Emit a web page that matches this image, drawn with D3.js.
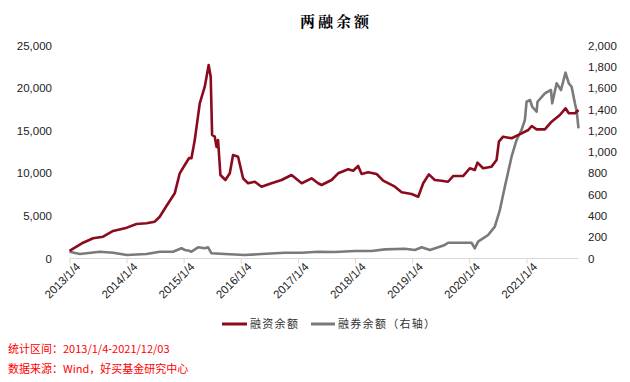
<!DOCTYPE html>
<html>
<head>
<meta charset="utf-8">
<script src="https://cdn.jsdelivr.net/npm/d3@7"></script>
<style>
  html, body { margin: 0; padding: 0; background: #fff; }
  svg { display: block; }
</style>
</head>
<body>
<svg id="chart" width="630" height="382"></svg>
<script>
// ---------- data ----------
const financingDates = ["2013-01-04","2013-04-01","2013-06-04","2013-08-07","2013-10-10","2014-01-06","2014-03-08","2014-05-11","2014-07-03","2014-08-04","2014-09-16","2014-11-08","2014-12-10","2015-01-12","2015-02-08","2015-02-23","2015-03-16","2015-04-17","2015-05-19","2015-06-13","2015-06-26","2015-07-05","2015-07-22","2015-08-02","2015-08-12","2015-08-27","2015-09-28","2015-10-26","2015-11-16","2015-12-18","2016-01-19","2016-02-20","2016-04-03","2016-05-16","2016-07-19","2016-09-21","2016-11-24","2017-01-28","2017-04-01","2017-05-13","2017-06-04","2017-08-07","2017-09-18","2017-11-21","2017-12-23","2018-01-24","2018-02-15","2018-03-29","2018-05-22","2018-07-03","2018-09-16","2018-10-29","2019-01-01","2019-02-12","2019-03-16","2019-04-21","2019-05-29","2019-07-11","2019-08-22","2019-09-23","2019-11-26","2020-01-08","2020-02-09","2020-02-26","2020-04-02","2020-05-26","2020-06-27","2020-07-12","2020-08-08","2020-10-01","2020-12-04","2021-01-16","2021-02-07","2021-03-10","2021-05-02","2021-06-14","2021-08-06","2021-09-11","2021-10-02","2021-11-10","2021-12-03"];
const financingValues = [900,1850,2370,2560,3230,3620,4050,4130,4320,4900,6160,7650,10000,11000,11800,11760,13900,18200,20160,22700,21340,14500,14300,13100,13900,9800,9210,10000,12150,11950,9410,8830,9010,8430,8830,9210,9800,8830,9410,8830,8630,9210,10000,10470,10300,10860,9920,10120,9920,9130,8430,7770,7570,7250,8830,9880,9210,9130,9010,9680,9680,10590,10390,11250,10590,10780,11560,13710,14300,14110,14690,15080,15550,15160,15160,16060,16840,17630,17040,17040,17430];

const lendingDates = ["2013-01-04","2013-03-11","2013-07-17","2013-10-10","2014-01-06","2014-05-11","2014-08-04","2014-10-28","2014-12-21","2015-01-12","2015-02-08","2015-02-23","2015-04-06","2015-05-19","2015-06-09","2015-07-01","2015-09-24","2016-01-30","2016-05-16","2016-10-12","2017-01-28","2017-05-13","2017-08-28","2018-01-04","2018-04-20","2018-07-14","2018-11-18","2019-01-22","2019-03-06","2019-04-28","2019-06-20","2019-08-01","2019-08-22","2019-10-26","2020-01-19","2020-02-09","2020-03-01","2020-05-04","2020-06-16","2020-07-18","2020-08-19","2020-10-01","2020-11-02","2020-12-04","2020-12-25","2021-01-05","2021-01-27","2021-02-10","2021-03-10","2021-03-16","2021-05-02","2021-06-10","2021-06-18","2021-07-16","2021-08-13","2021-09-11","2021-10-02","2021-10-20","2021-11-10","2021-11-22","2021-12-03"];
const lendingValues = [64,42,64,54,33,42,64,64,96,80,73,64,105,96,105,49,42,33,42,54,54,64,61,70,70,86,92,80,105,80,105,127,148,148,148,96,158,221,299,455,674,956,1113,1207,1300,1472,1488,1425,1378,1472,1551,1582,1457,1645,1582,1745,1645,1613,1457,1378,1222];

const xTickLabels = ["2013/1/4","2014/1/4","2015/1/4","2016/1/4","2017/1/4","2018/1/4","2019/1/4","2020/1/4","2021/1/4"];
const leftTicks = [0,5000,10000,15000,20000,25000];
const rightTicks = [0,200,400,600,800,1000,1200,1400,1600,1800,2000];
const seriesNames = ["融资余额","融券余额（右轴）"];
const seriesColors = ["#8B0A1E","#7A7A7A"];
const titleText = "两融余额";
const noteLines = ["统计区间：2013/1/4-2021/12/03","数据来源：Wind，好买基金研究中心"];

// ---------- chart ----------
const parse = d3.timeParse("%Y-%m-%d");
const parseTick = d3.timeParse("%Y/%m/%d");
const svg = d3.select("#chart");

const x = d3.scaleTime()
  .domain([parse("2013-01-04"), parse("2021-12-03")])
  .range([69.5, 578.5]);
const yL = d3.scaleLinear().domain([0, 25000]).range([258.5, 45.5]);
const yR = d3.scaleLinear().domain([0, 2000]).range([258.5, 45.5]);

const fin = financingDates.map((d, i) => ({ t: parse(d), v: financingValues[i] }));
const lend = lendingDates.map((d, i) => ({ t: parse(d), v: lendingValues[i] }));

const axisFont = "Arial, 'Liberation Sans', sans-serif";
const cjkFont = "'Noto Sans CJK SC', sans-serif";

// title
svg.append("text")
  .attr("x", 336).attr("y", 27)
  .attr("text-anchor", "middle")
  .attr("font-family", "'Noto Serif CJK SC', 'Noto Sans CJK SC', serif")
  .attr("font-weight", "bold")
  .attr("font-size", 15)
  .attr("letter-spacing", 3)
  .attr("fill", "#000")
  .text(titleText);

// x axis
const tickDates = xTickLabels.map(s => parseTick(s));
const xAxis = d3.axisBottom(x)
  .tickValues(tickDates)
  .tickSize(5)
  .tickFormat((d, i) => xTickLabels[i]);
const gx = svg.append("g").attr("transform", "translate(0,258.5)").call(xAxis);
gx.select(".domain").attr("stroke", "#d9d9d9").attr("d", `M69.5,0H578.5`);
gx.selectAll(".tick line").attr("stroke", "#d9d9d9");
gx.selectAll(".tick text")
  .attr("font-family", axisFont)
  .attr("font-size", 11.5)
  .attr("fill", "#222")
  .attr("text-anchor", "end")
  .attr("transform", "translate(4,2) rotate(-45)")
  .attr("dy", "0.35em")
  .attr("y", 6)
  .attr("x", 0);

// left axis
const fmt = d3.format(",");
const gl = svg.append("g").attr("transform", "translate(56,0)")
  .call(d3.axisLeft(yL).tickValues(leftTicks).tickSize(0).tickPadding(4).tickFormat(fmt));
gl.select(".domain").remove();
gl.selectAll(".tick text").attr("font-family", axisFont).attr("font-size", 11.5).attr("fill", "#222");

// right axis
const gr = svg.append("g").attr("transform", "translate(584,0)")
  .call(d3.axisRight(yR).tickValues(rightTicks).tickSize(0).tickPadding(4).tickFormat(fmt));
gr.select(".domain").remove();
gr.selectAll(".tick text").attr("font-family", axisFont).attr("font-size", 11.5).attr("fill", "#222");

// lines
const lineL = d3.line().x(d => x(d.t)).y(d => yL(d.v));
const lineR = d3.line().x(d => x(d.t)).y(d => yR(d.v));
svg.append("path").datum(lend)
  .attr("fill", "none").attr("stroke", seriesColors[1]).attr("stroke-width", 2.6)
  .attr("stroke-linejoin", "round").attr("d", lineR);
svg.append("path").datum(fin)
  .attr("fill", "none").attr("stroke", seriesColors[0]).attr("stroke-width", 2.6)
  .attr("stroke-linejoin", "round").attr("d", lineL);

// legend
const legend = [
  { x1: 222, x2: 247, tx: 250 },
  { x1: 311, x2: 335, tx: 338 }
];
legend.forEach((l, i) => {
  svg.append("line").attr("x1", l.x1).attr("x2", l.x2).attr("y1", 324).attr("y2", 324)
    .attr("stroke", seriesColors[i]).attr("stroke-width", 3);
  svg.append("text").attr("x", l.tx).attr("y", 328)
    .attr("font-family", cjkFont).attr("font-size", 11)
    .attr("letter-spacing", 1.3)
    .attr("fill", "#333")
    .text(seriesNames[i]);
});

// notes
noteLines.forEach((s, i) => {
  svg.append("text").attr("x", 8).attr("y", 353 + i * 19.5)
    .attr("font-family", cjkFont).attr("font-size", 11)
    .attr("fill", "#ff0000")
    .text(s);
});
</script>
</body>
</html>
